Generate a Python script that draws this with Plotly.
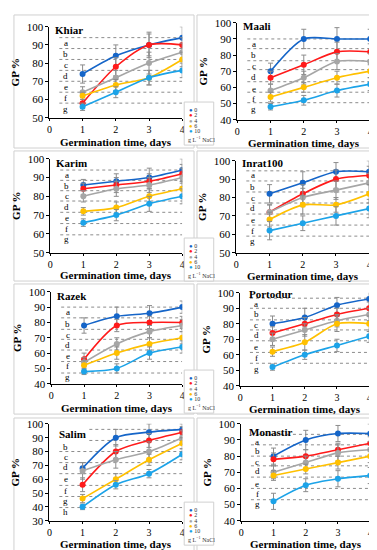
import plotly.graph_objects as go

days = [1, 2, 3, 4]
nacl_levels = ["0", "2", "4", "6", "10"]
series_colors = ["#1565C8", "#FF1A1A", "#A6A6A6", "#FFC000", "#1CA3E8"]
letters = ["a", "b", "c", "d", "e", "f", "g", "h"]

cultivars = ["Khiar", "Maali", "Karim", "Inrat100", "Razek", "Portodur", "Salim", "Monastir"]

khiar_gp = [[74, 84, 90, 94], [58, 78, 90, 90], [64, 72, 80, 86], [62, 68, 72, 82], [56, 64, 72, 76]]
khiar_err = [[5, 6, 7, 6], [3, 5, 6, 4], [3, 4, 6, 5], [2, 3, 4, 4], [2, 3, 4, 4]]
khiar_grid = [94, 88, 82, 76, 70, 64, 58]
khiar_letter_y = [91, 85, 79, 73, 67, 61, 55]

maali_gp = [[70, 90, 90, 90], [66, 74, 82, 82], [58, 66, 76, 76], [54, 60, 66, 70], [48, 52, 58, 62]]
maali_err = [[5, 6, 7, 6], [4, 6, 6, 5], [4, 4, 5, 5], [3, 3, 4, 4], [2, 3, 4, 4]]
maali_grid = [90, 84, 76.5, 71, 63.5, 57, 50.5]
maali_letter_y = [87, 80, 73, 66.5, 59, 52.5, 46.5]

karim_gp = [[86, 88, 90, 94], [84, 86, 88, 92], [80, 84, 86, 90], [72, 74, 80, 84], [66, 70, 76, 80]]
karim_err = [[3, 4, 5, 6], [3, 4, 4, 5], [3, 4, 4, 5], [2, 3, 4, 4], [2, 3, 4, 4]]
karim_grid = [94, 88.5, 83, 77.5, 71.5, 65.5, 59.5]
karim_letter_y = [91.5, 85.5, 80, 74.5, 68.5, 62.5, 57.5]

inrat_gp = [[82, 88, 94, 94], [72, 82, 90, 92], [72, 80, 84, 88], [68, 76, 76, 82], [62, 66, 70, 74]]
inrat_err = [[5, 6, 5, 6], [4, 5, 5, 5], [4, 5, 5, 5], [4, 5, 4, 5], [5, 4, 5, 5]]
inrat_grid = [94.5, 89, 83, 77, 71, 65, 59]
inrat_letter_y = [92, 85.5, 80, 74.5, 68, 62, 56.5]

razek_gp = [[78, 84, 86, 90], [56, 78, 80, 80], [54, 66, 74, 78], [52, 60, 66, 70], [48, 50, 60, 64]]
razek_err = [[5, 6, 5, 4], [4, 4, 4, 4], [3, 4, 4, 4], [3, 4, 4, 4], [2, 3, 4, 4]]
razek_grid = [90, 83, 75.5, 69, 62, 54.5, 47]
razek_letter_y = [87, 79, 72, 65.5, 58, 51.5, 44.5]

portodur_gp = [[80, 84, 92, 96], [74, 80, 86, 90], [70, 76, 82, 86], [62, 68, 80, 80], [52, 60, 66, 72]]
portodur_err = [[5, 6, 5, 5], [4, 4, 4, 4], [4, 4, 4, 4], [3, 5, 5, 5], [2, 3, 4, 4]]
portodur_grid = [96.5, 90, 82.5, 76, 69, 61.5, 54.5]
portodur_letter_y = [92.5, 86, 79, 72.5, 65, 58, 51]

salim_gp = [[68, 90, 94, 96], [56, 80, 88, 94], [66, 74, 80, 90], [46, 60, 74, 86], [40, 56, 64, 78]]
salim_err = [[4, 6, 6, 4], [5, 5, 5, 4], [6, 6, 7, 5], [3, 4, 4, 4], [2, 3, 3, 4]]
salim_grid = [96, 88, 80, 72, 64, 55.5, 47.5, 39.5]
salim_letter_y = [None, 83.5, 76, 68.5, 60, 51.5, 44.5, 36.5]

monastir_gp = [[80, 90, 94, 94], [78, 80, 84, 88], [70, 76, 82, 84], [68, 72, 76, 80], [52, 62, 66, 68]]
monastir_err = [[5, 6, 5, 6], [4, 4, 4, 4], [4, 4, 5, 5], [3, 3, 4, 4], [5, 4, 5, 5]]
monastir_grid = [93.5, 87, 80, 74, 67, 60, 53]
monastir_letter_y = [89, 83, 76.5, 70.5, 63, 56.5, 50.5]

y_ranges = [[50, 100], [40, 100], [50, 100], [50, 100], [40, 100], [40, 100], [30, 100], [40, 100]]

all_gp = [khiar_gp, maali_gp, karim_gp, inrat_gp, razek_gp, portodur_gp, salim_gp, monastir_gp]
all_err = [khiar_err, maali_err, karim_err, inrat_err, razek_err, portodur_err, salim_err, monastir_err]
all_grid = [khiar_grid, maali_grid, karim_grid, inrat_grid, razek_grid, portodur_grid, salim_grid, monastir_grid]
all_letter_y = [khiar_letter_y, maali_letter_y, karim_letter_y, inrat_letter_y, razek_letter_y,
                portodur_letter_y, salim_letter_y, monastir_letter_y]

# layout geometry (pixels): plot area x0, x1, y_top, y_bottom
W, H = 377, 550
plot_px = [
    (39, 174, 13, 106), (230, 365, 9, 108),
    (40, 174, 148, 244), (229, 364, 150, 244),
    (41, 174, 284, 378), (233, 364, 285, 380),
    (39, 174, 419, 518), (234, 365, 419, 518),
]
xtitle_px = [131, 132, 267, 268, 403, 404, 542, 542]
title_pos = [(0.1, 98), (0.12, 98), (0.12, 97.5), (0.12, 98.5), (0.12, 97), (0.2, 99), (0.22, 93), (0.18, 95)]
panel_boxes = [(3, 186, 1, 137), (189, 375, 1, 137), (3, 186, 140, 273), (189, 375, 140, 273),
               (3, 186, 276, 409), (189, 375, 276, 409), (3, 186, 413, 549), (189, 375, 413, 549)]
legend_tops = [90, 229, 364, 499]

FONT = "Liberation Serif"
fig = go.Figure()
shapes = []
annotations = []

for (bx0, bx1, by0, by1) in panel_boxes:
    shapes.append(dict(type="rect", xref="paper", yref="paper",
                       x0=bx0 / W, x1=bx1 / W, y0=1 - by1 / H, y1=1 - by0 / H,
                       line=dict(color="#D0D0D0", width=1), fillcolor="white", layer="below"))

for i, name in enumerate(cultivars):
    k = i + 1
    xa = "x" if k == 1 else f"x{k}"
    ya = "y" if k == 1 else f"y{k}"
    x0, x1, yt, yb = plot_px[i]
    fig.layout[f"xaxis{'' if k == 1 else k}"] = dict(
        domain=[x0 / W, x1 / W], anchor=ya, range=[0, 4], dtick=1, tick0=0,
        showline=True, linecolor="black", linewidth=1, ticks="outside", ticklen=2,
        tickcolor="black", showgrid=False, zeroline=False,
        tickfont=dict(family=FONT, size=10, color="black"))
    fig.layout[f"yaxis{'' if k == 1 else k}"] = dict(
        domain=[1 - yb / H, 1 - yt / H], anchor=xa, range=y_ranges[i], dtick=10,
        showline=True, linecolor="black", linewidth=1, ticks="outside", ticklen=3,
        tickcolor="black", showgrid=False, zeroline=False,
        tickfont=dict(family=FONT, size=11, color="black"),
        title=dict(text="<b>GP %</b>", standoff=4,
                   font=dict(family=FONT, size=11, color="black")))
    annotations.append(dict(xref="paper", yref="paper", x=(x0 + x1) / 2 / W, y=1 - xtitle_px[i] / H,
                            xanchor="center", yanchor="middle",
                            text="<b>Germination time, days</b>", showarrow=False,
                            font=dict(family=FONT, size=11, color="black")))
    # dotted reference lines and letters
    for j, gy in enumerate(all_grid[i]):
        shapes.append(dict(type="line", xref=xa, yref=ya, x0=0.3, x1=4, y0=gy, y1=gy,
                           line=dict(color="#8C8C8C", width=1, dash="dot"), layer="below"))
    for j, ly in enumerate(all_letter_y[i]):
        if ly is None:
            continue
        annotations.append(dict(xref=xa, yref=ya, x=0.5, y=ly, text=letters[j], showarrow=False,
                                xanchor="center", yanchor="middle",
                                font=dict(family=FONT, size=9, color="black")))
    tx, ty = title_pos[i]
    title_ann = dict(xref=xa, yref=ya, x=tx, y=ty, text=f"<b>{name}</b>", showarrow=False,
                     xanchor="left", yanchor="middle", font=dict(family=FONT, size=11, color="black"))
    if name == "Salim":
        title_ann["bgcolor"] = "white"
    annotations.append(title_ann)
    for s in range(5):
        fig.add_trace(go.Scatter(
            x=days, y=all_gp[i][s], xaxis=xa, yaxis=ya, mode="lines+markers",
            line=dict(color=series_colors[s], width=1.6, shape="spline", smoothing=0.8),
            marker=dict(color=series_colors[s], size=6),
            error_y=dict(type="data", array=all_err[i][s], color="#8C8C8C", thickness=1, width=2.5),
            name=nacl_levels[s], showlegend=False))

# small legends between columns
for top in legend_tops:
    shapes.append(dict(type="rect", xref="paper", yref="paper",
                       x0=176 / W, x1=206 / W, y0=1 - (top + 44) / H, y1=1 - top / H,
                       line=dict(color="#D0D0D0", width=1), fillcolor="white"))
    for s in range(5):
        yy = top + 8 + s * 5.5
        annotations.append(dict(xref="paper", yref="paper", x=179 / W, y=1 - yy / H,
                                xanchor="left", yanchor="middle",
                                text=f"<span style='color:{series_colors[s]}'>●</span> {nacl_levels[s]}",
                                showarrow=False, font=dict(family=FONT, size=6, color="#333")))
    annotations.append(dict(xref="paper", yref="paper", x=178 / W, y=1 - (top + 38) / H,
                            xanchor="left", yanchor="middle",
                            text="g L<sup>−1</sup> NaCl", showarrow=False,
                            font=dict(family=FONT, size=6, color="#333")))

fig.update_layout(width=W, height=H, margin=dict(l=0, r=0, t=0, b=0),
                  paper_bgcolor="white", plot_bgcolor="rgba(0,0,0,0)",
                  shapes=shapes, annotations=annotations, showlegend=False)
fig.write_html("out.html")
